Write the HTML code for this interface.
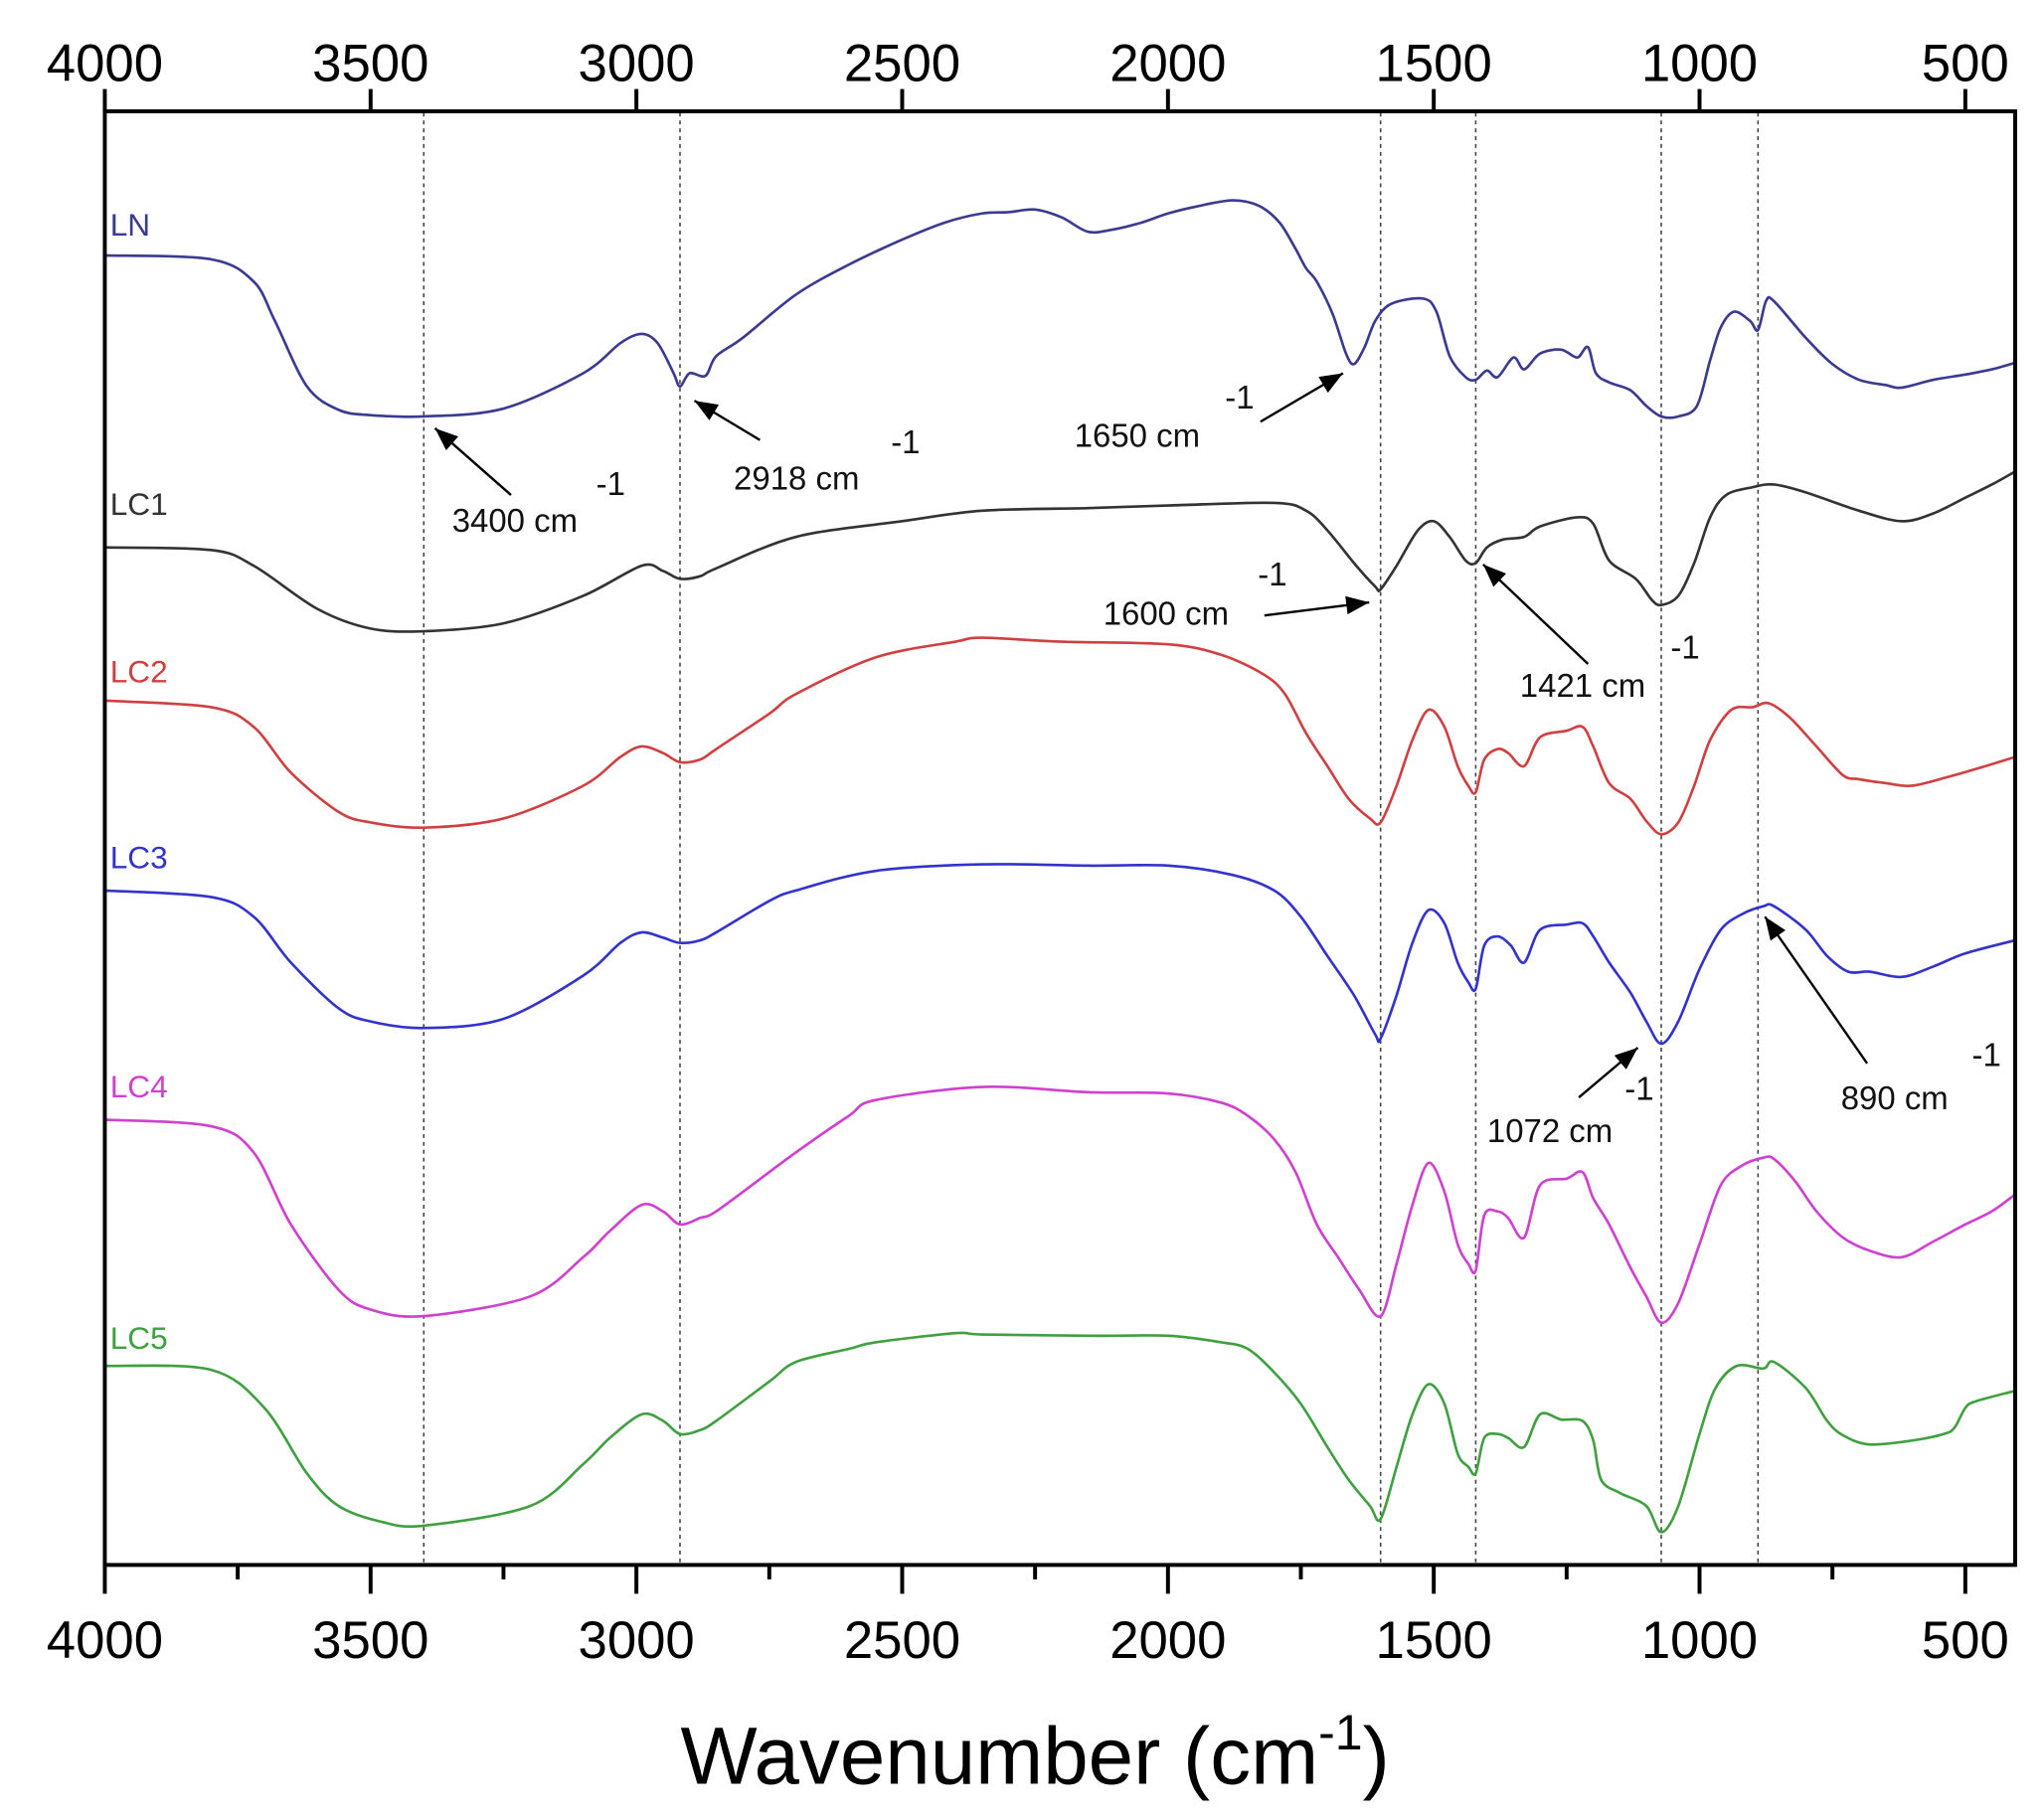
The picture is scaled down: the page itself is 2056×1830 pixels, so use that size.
<!DOCTYPE html>
<html><head><meta charset="utf-8"><style>
html,body{margin:0;padding:0;background:#fff;}
svg{display:block;}
text{font-family:"Liberation Sans",Arial,sans-serif;}
</style></head><body>
<svg id="s" width="2056" height="1830" viewBox="0 0 1560 1389" preserveAspectRatio="none" xmlns="http://www.w3.org/2000/svg">
<rect width="1560" height="1389" fill="#fff"/>
<g id="grid" stroke="#444" stroke-width="1.2" stroke-dasharray="3,3"></g>
<g id="curves" fill="none" stroke-width="2"></g>
<g id="axes" stroke="#000" stroke-width="3" fill="none"></g>
<g id="lbl" font-size="40" text-anchor="middle" fill="#000"></g>
<text x="790" y="1362" font-size="62" text-anchor="middle">Wavenumber (cm<tspan dy="-26" font-size="38">-1</tspan><tspan dy="26">)</tspan></text>
<g font-size="24">
<text x="84" y="180" fill="#3a3a90">LN</text>
<text x="84" y="393" fill="#333">LC1</text>
<text x="84" y="521" fill="#d04040">LC2</text>
<text x="84" y="663" fill="#3333cc">LC3</text>
<text x="84" y="838" fill="#d040d0">LC4</text>
<text x="84" y="1030" fill="#40a040">LC5</text>
</g>
<g font-size="25" fill="#111" xml:space="preserve">
<text x="345" y="406">3400 cm</text><text x="455" y="378">-1</text>
<text x="560" y="374">2918  cm</text><text x="680" y="346">-1</text>
<text x="820" y="341">1650  cm</text><text x="935" y="312">-1</text>
<text x="842" y="477">1600  cm</text><text x="960" y="447">-1</text>
<text x="1160" y="532">1421  cm</text><text x="1275" y="503">-1</text>
<text x="1135" y="872">1072 cm</text><text x="1240" y="840">-1</text>
<text x="1405" y="847">890 cm</text><text x="1505" y="814">-1</text>
</g>
<defs>
<marker id="a2" viewBox="0 0 10 8" markerWidth="18" markerHeight="14" refX="10" refY="4" orient="auto" markerUnits="userSpaceOnUse"><path d="M0,0 L10,4 L0,8z" fill="#000"/></marker></defs>
<g stroke="#000" stroke-width="1.8" marker-end="url(#a2)">
<line x1="390" y1="378" x2="332" y2="327"/>
<line x1="580" y1="336" x2="530" y2="306"/>
<line x1="962" y1="322" x2="1025" y2="285"/>
<line x1="965" y1="470" x2="1045" y2="460"/>
<line x1="1212" y1="507" x2="1132" y2="431"/>
<line x1="1205" y1="838" x2="1250" y2="800"/>
<line x1="1425" y1="812" x2="1347" y2="700"/>
</g>
</svg>
<script>
const NS="http://www.w3.org/2000/svg";
const X=w=>80+(4000-w)*0.4057;
function el(p,t,a){const e=document.createElementNS(NS,t);for(const k in a)e.setAttribute(k,a[k]);p.appendChild(e);return e;}
const ax=document.getElementById('axes'),lb=document.getElementById('lbl'),gr=document.getElementById('grid');
el(ax,'rect',{x:80,y:85,width:1458,height:1110});
for(let w=4000;w>=500;w-=250){const x=X(w);const maj=w%500==0;
 el(ax,'line',{x1:x,y1:1195,x2:x,y2:maj?1217:1206});
 if(maj){el(ax,'line',{x1:x,y1:85,x2:x,y2:68});
  el(lb,'text',{x:x,y:62}).textContent=w;
  el(lb,'text',{x:x,y:1266}).textContent=w;}}
[3400,2918,1600,1421,1072,890].forEach(w=>el(gr,'line',{x1:X(w),y1:86,x2:X(w),y2:1194}));
const S=[
["#3a3a90",[[4000,195],[3800,198],[3720,215],[3680,245],[3620,295],[3560,313],[3500,317],[3400,318],[3250,312],[3100,285],[3030,262],[2990,255],[2960,262],[2930,285],[2918,295],[2900,285],[2870,287],[2850,272],[2800,258],[2700,225],[2600,202],[2500,183],[2420,170],[2350,163],[2300,162],[2250,160],[2200,166],[2150,177],[2100,175],[2050,170],[2000,163],[1950,158],[1880,153],[1830,157],[1790,170],[1760,190],[1740,205],[1720,215],[1690,240],[1665,270],[1650,278],[1630,265],[1610,245],[1580,232],[1520,228],[1495,238],[1470,272],[1440,288],[1421,290],[1400,283],[1380,288],[1350,273],[1330,282],[1300,270],[1260,267],[1230,273],[1210,265],[1195,285],[1170,292],[1130,298],[1100,310],[1072,318],[1040,318],[1005,310],[980,275],[960,250],[935,238],[905,245],[890,252],[875,230],[860,230],[800,258],[750,278],[700,290],[650,294],[620,296],[560,290],[500,286],[450,282],[406,277]]],
["#333",[[4000,418],[3800,420],[3720,432],[3600,465],[3500,480],[3400,482],[3250,476],[3100,455],[2990,432],[2950,436],[2918,442],[2880,440],[2850,434],[2700,410],[2500,398],[2350,390],[2150,388],[2000,386],[1800,384],[1740,390],[1700,405],[1650,430],[1610,448],[1600,450],[1570,432],[1530,405],[1500,398],[1470,410],[1440,428],[1421,430],[1400,418],[1370,412],[1330,410],[1300,402],[1230,395],[1200,400],[1170,428],[1120,442],[1090,458],[1072,462],[1040,455],[1010,430],[980,395],[950,378],[900,372],[860,370],[800,376],[700,390],[620,398],[560,392],[500,380],[450,370],[406,360]]],
["#d04040",[[4000,535],[3800,540],[3720,555],[3650,590],[3560,620],[3500,628],[3400,632],[3250,625],[3100,600],[3030,578],[2990,570],[2950,575],[2918,582],[2880,580],[2850,572],[2750,545],[2700,530],[2550,502],[2400,490],[2350,487],[2200,490],[2000,492],[1900,500],[1820,515],[1780,530],[1740,560],[1700,585],[1660,610],[1620,625],[1600,628],[1570,600],[1540,565],[1510,542],[1480,555],[1455,585],[1435,600],[1421,605],[1405,580],[1380,572],[1360,575],[1330,585],[1300,563],[1250,558],[1220,555],[1200,570],[1170,598],[1130,610],[1100,627],[1072,637],[1040,628],[1010,600],[980,565],[940,542],[900,540],[870,537],[830,548],[780,570],[730,592],[700,595],[650,598],[600,600],[530,593],[470,586],[406,578]]],
["#3333cc",[[4000,680],[3800,685],[3720,700],[3650,735],[3560,770],[3500,780],[3400,785],[3250,778],[3100,745],[3030,720],[2990,712],[2950,716],[2918,720],[2880,718],[2850,712],[2750,688],[2700,680],[2550,665],[2350,660],[2150,661],[2000,661],[1880,668],[1800,680],[1750,700],[1700,730],[1650,760],[1610,790],[1600,793],[1570,760],[1540,720],[1510,695],[1480,705],[1455,735],[1435,750],[1421,755],[1405,722],[1380,715],[1355,722],[1330,735],[1300,710],[1250,706],[1220,705],[1200,715],[1170,735],[1130,758],[1100,780],[1072,797],[1040,780],[1000,740],[960,710],[920,698],[880,692],[860,692],[800,710],[760,730],[720,742],[680,742],[620,746],[560,738],[500,728],[406,718]]],
["#d040d0",[[4000,855],[3800,860],[3720,880],[3650,935],[3560,985],[3500,1000],[3400,1005],[3200,990],[3100,960],[3050,940],[2990,920],[2950,925],[2918,935],[2880,930],[2850,925],[2750,895],[2700,880],[2600,852],[2550,840],[2350,830],[2150,834],[2000,835],[1900,842],[1850,852],[1800,870],[1760,895],[1720,935],[1680,960],[1640,985],[1600,1005],[1570,965],[1540,920],[1510,888],[1480,910],[1455,950],[1435,965],[1421,970],[1405,928],[1380,925],[1360,930],[1330,945],[1300,905],[1250,900],[1220,895],[1200,915],[1170,935],[1130,968],[1100,990],[1072,1010],[1040,995],[1000,950],[960,905],[920,890],[880,884],[860,885],[820,902],[780,925],[730,945],[680,955],[620,960],[560,948],[500,935],[450,925],[406,912]]],
["#40a040",[[4000,1043],[3800,1046],[3700,1075],[3620,1125],[3560,1150],[3480,1162],[3400,1165],[3200,1150],[3100,1118],[3050,1098],[2990,1080],[2950,1085],[2918,1095],[2880,1092],[2850,1085],[2750,1055],[2700,1040],[2600,1030],[2550,1025],[2400,1018],[2350,1019],[2150,1020],[2000,1020],[1900,1025],[1850,1030],[1800,1048],[1750,1072],[1700,1105],[1660,1130],[1620,1150],[1600,1160],[1570,1120],[1540,1080],[1510,1057],[1480,1072],[1455,1110],[1435,1120],[1421,1125],[1405,1098],[1380,1095],[1360,1098],[1330,1105],[1300,1080],[1260,1084],[1220,1085],[1200,1100],[1185,1130],[1150,1140],[1100,1150],[1072,1170],[1040,1150],[1000,1095],[970,1060],[930,1043],[880,1045],[860,1040],[800,1060],[760,1085],[730,1096],[680,1103],[600,1100],[540,1095],[520,1090],[500,1075],[480,1070],[406,1062]]]
];
const cg=document.getElementById('curves');
S.forEach(([c,p])=>{
 const q=p.map(([w,y])=>[X(w),y]);
 let d=`M${q[0][0].toFixed(1)},${q[0][1]}`;
 for(let i=0;i<q.length-1;i++){
  const p0=q[Math.max(0,i-1)],p1=q[i],p2=q[i+1],p3=q[Math.min(q.length-1,i+2)];
  const t=0.16;
  const c1=[p1[0]+(p2[0]-p0[0])*t,p1[1]+(p2[1]-p0[1])*t];
  const c2=[p2[0]-(p3[0]-p1[0])*t,p2[1]-(p3[1]-p1[1])*t];
  d+=` C${c1[0].toFixed(1)},${c1[1].toFixed(1)} ${c2[0].toFixed(1)},${c2[1].toFixed(1)} ${p2[0].toFixed(1)},${p2[1]}`;
 }
 el(cg,'path',{d:d,stroke:c});
});
</script>
</body></html>
